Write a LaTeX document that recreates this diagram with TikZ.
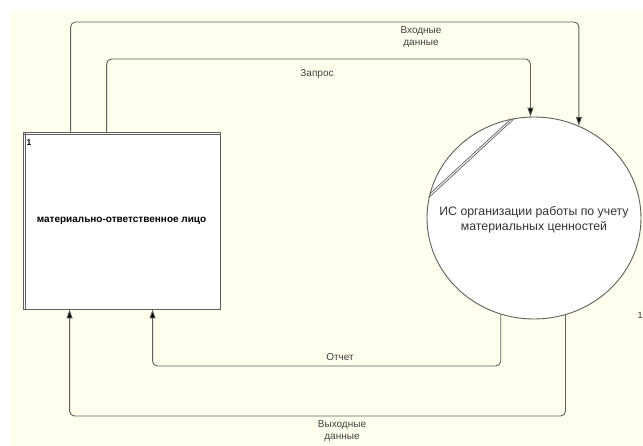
\documentclass[tikz,border=0pt]{standalone}
\usepackage{fontspec}
\setmainfont{Liberation Sans}
\usetikzlibrary{shapes.geometric,arrows.meta,calc}
\definecolor{paper}{RGB}{255,255,238}
\definecolor{edge}{RGB}{95,95,95}
\tikzset{
  flow/.style={draw=edge, line width=0.9pt, rounded corners=5pt,
    -{Triangle[width=6pt,length=9pt,fill=black]}},
  lbl/.style={font=\fontsize{10}{11.5}\selectfont, text=black!75, align=center, inner sep=0pt},
  entity/.style={draw=edge, fill=white, line width=0.9pt,
    minimum width=197pt, minimum height=177pt, inner sep=0pt},
  process/.style={ellipse, draw=edge, fill=white, line width=0.9pt,
    minimum width=214pt, minimum height=202pt, inner sep=0pt},
}
\begin{document}
\begin{tikzpicture}[x=1pt,y=-1pt]
\useasboundingbox (0,0) rectangle (643,446);
\fill[white] (0,0) rectangle (643,446);
\fill[paper] (10,11) rectangle (643,446);

% external entity
\node[entity] (mol) at (121.5,220.5) {};
\draw[edge, line width=0.7pt] ([xshift=2.5pt]mol.north west) -- ([xshift=2.5pt]mol.south west);
\draw[edge, line width=0.7pt] ([yshift=-2.5pt]mol.north west) -- ([yshift=-2.5pt]mol.north east);
\node[font=\fontsize{8.5}{10}\selectfont\bfseries, inner sep=0pt] (molnum) at (29,143) {1};
\node[font=\fontsize{10}{12}\selectfont\bfseries, inner sep=0pt] (moltext) at (mol.center) {материально-ответственное лицо};

% process
\node[process] (is) at (534,218) {};
\draw[edge, line width=0.7pt] (is.169) -- (is.101);
\draw[edge, line width=0.7pt] (is.167) -- (is.103);
\node[font=\fontsize{12.3}{15}\selectfont, text=black!80, align=center, inner sep=0pt] (istext) at (534,220) {ИС организации работы по учету\\материальных ценностей};
\node[font=\fontsize{9}{10}\selectfont, text=black!80, inner sep=0pt] (isnum) at (640,315) {1};

% flows
\coordinate (outA) at ([xshift=48pt]mol.north west);
\coordinate (outB) at ([xshift=84pt]mol.north west);
\coordinate (inA) at ([xshift=130pt]mol.south west);
\coordinate (inB) at ([xshift=47pt]mol.south west);

\draw[flow] (outA) |- (is.64.4 |- 0,22) -- (is.64.4);
\draw[flow] (outB) |- (is.92.8 |- 0,59) -- (is.92.8);
\draw[flow] (is.251.6) |- (inA |- 0,366) -- (inA);
\draw[flow] (is.288.4) |- (inB |- 0,416) -- (inB);

% flow labels
\node[lbl] (l1) at (421,37) {Входные\\данные};
\node[lbl] (l2) at (317,74) {Запрос};
\node[lbl] (l3) at (340,357) {Отчет};
\node[lbl] (l4) at (342,431) {Выходные\\данные};
\end{tikzpicture}
\end{document}
